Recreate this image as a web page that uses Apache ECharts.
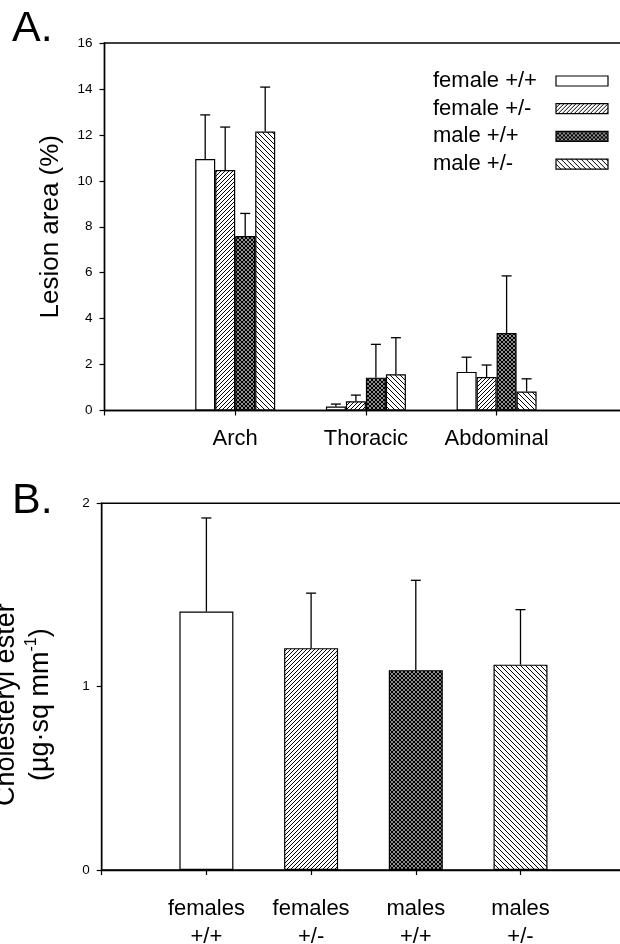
<!DOCTYPE html>
<html>
<head>
<meta charset="utf-8">
<script src="https://cdn.jsdelivr.net/npm/echarts@6/dist/echarts.min.js"></script>
<style>
html,body{margin:0;padding:0;background:#fff;}
#c{width:620px;height:944px;}
</style>
</head>
<body>
<div id="c"></div>
<script>
// ---------- Panel A data ----------
const regionsA = ['Arch', 'Thoracic', 'Abdominal'];
const yTicksA = [0, 2, 4, 6, 8, 10, 12, 14, 16];
const groupNames = ['female +/+', 'female +/-', 'male +/+', 'male +/-'];
const femaleWT_mean = [10.95, 0.17, 1.68];
const femaleWT_sd   = [1.92, 0.11, 0.64];
const femaleHet_mean = [10.47, 0.40, 1.46];
const femaleHet_sd   = [1.87, 0.27, 0.52];
const maleWT_mean = [7.60, 1.43, 3.37];
const maleWT_sd   = [0.98, 1.45, 2.49];
const maleHet_mean = [12.15, 1.58, 0.83];
const maleHet_sd   = [1.93, 1.59, 0.55];

// ---------- Panel B data ----------
const groupsB = ['females\n+/+', 'females\n+/-', 'males\n+/+', 'males\n+/-'];
const yTicksB = [0, 1, 2];
const cholEster_mean = [1.41, 1.21, 1.09, 1.12];
const cholEster_sd   = [0.51, 0.30, 0.49, 0.30];

// ---------- patterns ----------
function makePattern(kind) {
  const size = kind === 'back' ? 5 : 4;
  const c = document.createElement('canvas');
  c.width = size; c.height = size;
  const g = c.getContext('2d');
  g.fillStyle = '#fff'; g.fillRect(0, 0, size, size);
  g.strokeStyle = '#000';
  g.lineWidth = kind === 'cross' ? 1.3 : 1;
  function fwd() {
    g.beginPath();
    g.moveTo(-1, 1); g.lineTo(1, -1);
    g.moveTo(0, size); g.lineTo(size, 0);
    g.moveTo(size - 1, size + 1); g.lineTo(size + 1, size - 1);
    g.stroke();
  }
  function back() {
    g.beginPath();
    g.moveTo(0, 0); g.lineTo(size, size);
    g.moveTo(-1, size - 1); g.lineTo(1, size + 1);
    g.moveTo(size - 1, -1); g.lineTo(size + 1, 1);
    g.stroke();
  }
  if (kind === 'fwd') fwd();
  else if (kind === 'back') back();
  else if (kind === 'cross') { fwd(); back(); }
  return { image: c, repeat: 'repeat' };
}
const fills = ['#ffffff', makePattern('fwd'), makePattern('cross'), makePattern('back')];

const meansA = [femaleWT_mean, femaleHet_mean, maleWT_mean, maleHet_mean];
const sdsA = [femaleWT_sd, femaleHet_sd, maleWT_sd, maleHet_sd];
const catsA = [''].concat(regionsA, ['']);
const catsB = [''].concat(groupsB, ['']);

const FONT = 'Liberation Sans';
const BAR_A = 20;
const CAP = 5;

function errRender(offset) {
  return function (params, api) {
    const c = api.value(0), m = api.value(1), s = api.value(2);
    const p0 = api.coord([c, m]);
    const p1 = api.coord([c, m + s]);
    const x = p0[0] + offset;
    const st = { stroke: '#000', lineWidth: 1.3 };
    return {
      type: 'group',
      children: [
        { type: 'line', shape: { x1: x, y1: p0[1], x2: x, y2: p1[1] }, style: st },
        { type: 'line', shape: { x1: x - CAP, y1: p1[1], x2: x + CAP, y2: p1[1] }, style: st }
      ]
    };
  };
}

const series = [];
groupNames.forEach(function (name, gi) {
  series.push({
    type: 'bar', name: name, xAxisIndex: 0, yAxisIndex: 0,
    barWidth: BAR_A, barGap: '0%',
    data: ['-'].concat(meansA[gi], ['-']),
    itemStyle: { color: fills[gi], borderColor: '#000', borderWidth: 1.2 },
    emphasis: { disabled: true },
    animation: false
  });
});
groupNames.forEach(function (name, gi) {
  series.push({
    type: 'custom', xAxisIndex: 0, yAxisIndex: 0,
    renderItem: errRender((gi - 1.5) * BAR_A),
    encode: { x: 0, y: 1 },
    data: meansA[gi].map(function (m, i) { return [i + 1, m, sdsA[gi][i]]; }),
    z: 5, silent: true, animation: false
  });
});
series.push({
  type: 'bar', xAxisIndex: 1, yAxisIndex: 1, barWidth: 54,
  data: ['-'].concat(cholEster_mean.map(function (v, i) {
    return { value: v, itemStyle: { color: fills[i] } };
  }), ['-']),
  itemStyle: { borderColor: '#000', borderWidth: 1.2 },
  emphasis: { disabled: true }, animation: false
});
series.push({
  type: 'custom', xAxisIndex: 1, yAxisIndex: 1,
  renderItem: errRender(0),
  encode: { x: 0, y: 1 },
  data: cholEster_mean.map(function (m, i) { return [i + 1, m, cholEster_sd[i]]; }),
  z: 5, silent: true, animation: false
});

const axisLine = { show: true, lineStyle: { color: '#000', width: 1.4 } };
const axisTick = { show: true, length: 5, inside: false, lineStyle: { color: '#000', width: 1.2 } };

const option = {
  backgroundColor: '#fff',
  animation: false,
  title: [
    { text: 'A.', left: 12, top: 7.6, padding: 0, textStyle: { fontFamily: FONT, fontSize: 43, fontWeight: 'normal', color: '#000', lineHeight: 43 } },
    { text: 'B.', left: 12, top: 479.3, padding: 0, textStyle: { fontFamily: FONT, fontSize: 43, fontWeight: 'normal', color: '#000', lineHeight: 43 } }
  ],
  legend: {
    data: groupNames,
    orient: 'vertical',
    align: 'right',
    left: 433, top: 70,
    padding: 0,
    icon: 'rect',
    itemWidth: 52, itemHeight: 10,
    itemGap: 5.7,
    selectedMode: false,
    itemStyle: { borderColor: '#000', borderWidth: 1.2 },
    formatter: function (n) { return '{t|' + n + '}'; },
    textStyle: {
      color: '#000', fontFamily: FONT, fontSize: 22,
      rich: { t: { width: 118, align: 'left', fontFamily: FONT, fontSize: 22, lineHeight: 22, color: '#000' } }
    }
  },
  grid: [
    { left: 104.5, right: -7.3, top: 43, bottom: 533.5, show: true, borderColor: '#000', borderWidth: 1.4, backgroundColor: 'transparent', containLabel: false, outerBoundsMode: 'none' },
    { left: 101.7, right: -5.2, top: 503.3, bottom: 74, show: true, borderColor: '#000', borderWidth: 1.4, backgroundColor: 'transparent', containLabel: false, outerBoundsMode: 'none' }
  ],
  xAxis: [
    {
      type: 'category', gridIndex: 0, data: catsA, boundaryGap: false,
      axisLine: axisLine, axisTick: Object.assign({}, axisTick, { interval: 0 }),
      axisLabel: { interval: 0, margin: 17, fontFamily: FONT, fontSize: 22, color: '#000' },
      splitLine: { show: false }
    },
    {
      type: 'category', gridIndex: 1, data: catsB, boundaryGap: false,
      axisLine: axisLine, axisTick: Object.assign({}, axisTick, { interval: 0 }),
      axisLabel: { interval: 0, margin: 25, fontFamily: FONT, fontSize: 22, lineHeight: 28, color: '#000' },
      splitLine: { show: false }
    }
  ],
  yAxis: [
    {
      type: 'value', gridIndex: 0, min: yTicksA[0], max: yTicksA[yTicksA.length - 1], interval: 2,
      axisLine: axisLine, axisTick: axisTick,
      axisLabel: { margin: 12, fontFamily: FONT, fontSize: 13.5, color: '#000' },
      splitLine: { show: false },
      name: 'Lesion area (%)', nameLocation: 'middle', nameGap: 41, nameMoveOverlap: false,
      nameTextStyle: { fontFamily: FONT, fontSize: 26, color: '#000', lineHeight: 26 }
    },
    {
      type: 'value', gridIndex: 1, min: yTicksB[0], max: yTicksB[yTicksB.length - 1], interval: 1,
      axisLine: axisLine, axisTick: axisTick,
      axisLabel: { margin: 12, fontFamily: FONT, fontSize: 13.5, color: '#000' },
      splitLine: { show: false },
      name: 'Cholesteryl ester\n(µg·sq mm{sup|-1})', nameLocation: 'middle', nameGap: 44, nameMoveOverlap: false,
      nameTextStyle: {
        fontFamily: FONT, fontSize: 27, color: '#000', lineHeight: 34, padding: [0, 36, 0, 0],
        rich: { sup: { fontFamily: FONT, fontSize: 16, lineHeight: 16, verticalAlign: 'top', color: '#000' } }
      }
    }
  ],
  series: series
};

const chart = echarts.init(document.getElementById('c'), null, { renderer: 'canvas' });
chart.setOption(option);
</script>
</body>
</html>
